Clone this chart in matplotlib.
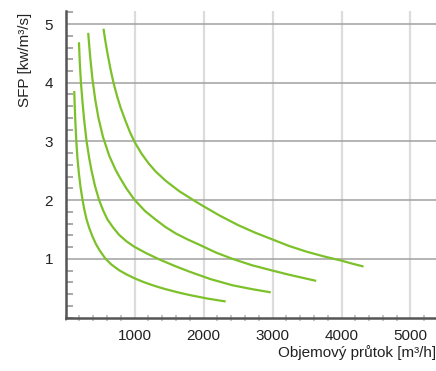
import matplotlib
matplotlib.use("Agg")
import matplotlib.pyplot as plt
from matplotlib.ticker import MultipleLocator

plt.rcParams['font.family'] = ['Liberation Sans', 'DejaVu Sans']

# Curve data (flow m3/h, SFP kW/m3/s)
c1_x = [124, 130, 139, 153, 170, 190, 215, 245, 270, 303, 340, 389, 435, 485, 572, 660, 774, 890,
        1014, 1130, 1255, 1360, 1470, 1650, 1800, 2050, 2320]
c1_y = [3.86, 3.63, 3.36, 3.02, 2.72, 2.47, 2.22, 2.0, 1.84, 1.67, 1.53, 1.38, 1.26, 1.157, 1.01, 0.906, 0.807, 0.73,
        0.661, 0.605, 0.553, 0.514, 0.477, 0.423, 0.383, 0.325, 0.274]

c2_x = [192, 205, 221, 245, 269, 303, 340, 375, 425, 485, 545, 606, 690, 774, 880, 990, 1170, 1360,
        1580, 1800, 2100, 2419, 2700, 2973]
c2_y = [4.69, 4.33, 4.0, 3.65, 3.35, 3.0, 2.72, 2.50, 2.24, 2.0, 1.82, 1.67, 1.53, 1.41, 1.3, 1.21, 1.095, 0.99,
        0.88, 0.78, 0.655, 0.55, 0.485, 0.43]

c3_x = [326, 355, 389, 430, 475, 540, 630, 726, 783, 880, 995, 1150, 1303, 1450, 1600, 1770, 1940, 2180,
        2419, 2700, 3000, 3238, 3633]
c3_y = [4.85, 4.44, 4.05, 3.70, 3.40, 3.08, 2.76, 2.51, 2.39, 2.2, 2.01, 1.815, 1.67, 1.54, 1.43, 1.33, 1.24, 1.107,
        1.0, 0.892, 0.80, 0.73, 0.625]

c4_x = [548, 575, 606, 650, 693, 745, 798, 870, 935, 1004, 1101, 1200, 1303, 1450, 1650, 1880, 2000, 2229,
        2500, 2750, 3000, 3238, 3500, 3750, 4000, 4150, 4319]
c4_y = [4.92, 4.71, 4.5, 4.23, 4.0, 3.77, 3.57, 3.34, 3.15, 2.98, 2.79, 2.63, 2.49, 2.33, 2.15, 1.98, 1.895, 1.74,
        1.575, 1.445, 1.33, 1.22, 1.12, 1.04, 0.97, 0.92, 0.87]

curves = [(c1_x, c1_y), (c2_x, c2_y), (c3_x, c3_y), (c4_x, c4_y)]

x_ticks = [1000, 2000, 3000, 4000, 5000]
y_ticks = [1, 2, 3, 4, 5]
x_label = "Objemový průtok [m³/h]"
y_label = "SFP [kw/m³/s]"

fig = plt.figure(figsize=(4.36, 3.71), dpi=100)
ax = fig.add_axes([0.1507, 0.144, 0.8493, 0.826])

green = "#7cc12a"
for xs, ys in curves:
    ax.plot(xs, ys, color=green, lw=1.6, solid_capstyle='butt', solid_joinstyle='round', zorder=3)

ax.set_xlim(0, 5370)
ax.set_ylim(0, 5.22)

ax.set_xticks(x_ticks)
ax.set_yticks(y_ticks)
ax.xaxis.set_minor_locator(MultipleLocator(200))
ax.yaxis.set_minor_locator(MultipleLocator(0.2))

for v in x_ticks:
    ax.axvline(v, color="#dcdcdc", lw=1.6, zorder=1)
for v in y_ticks:
    ax.axhline(v, color="#a0a0a0", lw=1.1, zorder=2)

ax.tick_params(axis='both', which='major', length=0, labelsize=11, colors='#222222')
ax.tick_params(axis='x', which='major', pad=8)
ax.tick_params(axis='y', which='major', pad=9)
ax.tick_params(axis='x', which='minor', direction='inout', length=5, width=1.2, color='#bbbbbb')
ax.tick_params(axis='y', which='minor', direction='in', length=5, width=1.2, color='#999999')

for s in ['top', 'right']:
    ax.spines[s].set_visible(False)
for s in ['left', 'bottom']:
    ax.spines[s].set_color('#555555')
    ax.spines[s].set_linewidth(1.8)
    ax.spines[s].set_zorder(4)

ax.set_xlabel(x_label, fontsize=11, color='#222222')
ax.xaxis.set_label_coords(1.0, -0.088)
ax.xaxis.label.set_horizontalalignment('right')
ax.set_ylabel(y_label, fontsize=11, color='#222222')
ax.yaxis.set_label_coords(-0.111, 0.994)
ax.yaxis.label.set_verticalalignment('center')
ax.yaxis.label.set_horizontalalignment('right')

fig.savefig("out.png", dpi=100)
